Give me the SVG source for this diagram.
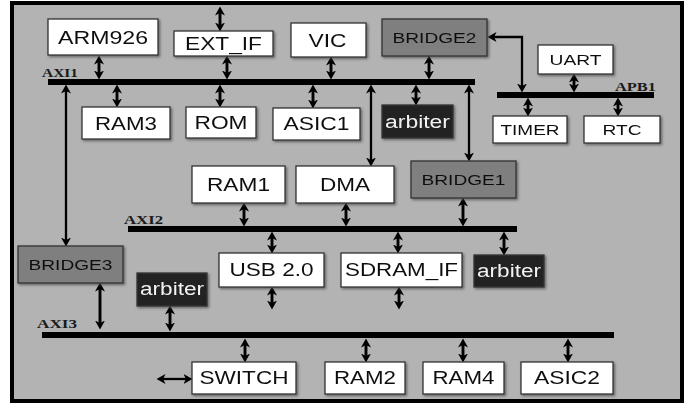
<svg xmlns="http://www.w3.org/2000/svg" width="690" height="407" viewBox="0 0 690 407">
  <style>
    .box { fill: #ffffff; stroke: #333333; stroke-width: 1.3; }
    .bridge { fill: #7f7f7f; stroke: #333333; stroke-width: 1.3; }
    .arb { fill: #232323; stroke: #333333; stroke-width: 1.3; }
    .lbl { font-family: "Liberation Sans", Arial, sans-serif; font-size: 18px; fill: #111111; text-anchor: middle; }
    .lbl-s { font-family: "Liberation Sans", Arial, sans-serif; font-size: 15px; fill: #111111; text-anchor: middle; }
    .lbl-w { font-family: "Liberation Sans", Arial, sans-serif; font-size: 18px; fill: #f2f2f2; text-anchor: middle; }
    .bus { stroke: #000000; stroke-width: 6; }
    .busname { font-family: "Liberation Serif", "Times New Roman", serif; font-weight: bold; font-size: 11.5px; fill: #1a1a1a; }
    .link { fill: none; stroke: #000000; stroke-width: 2.9; marker-start: url(#head); marker-end: url(#head); }
    .link-long { fill: none; stroke: #000000; stroke-width: 2.3; marker-start: url(#head); marker-end: url(#head); }
  </style>
  <defs>
    <marker id="head" markerUnits="userSpaceOnUse" markerWidth="10" markerHeight="11" refX="5.5" refY="5.5" orient="auto-start-reverse">
      <path d="M0,0.5 L9,5.5 L0,10.5 L2.4,5.5 Z" fill="#000000"/>
    </marker>
    <filter id="shadow" x="-10%" y="-10%" width="125%" height="130%">
      <feDropShadow dx="1.5" dy="1.5" stdDeviation="0.8" flood-color="#444444" flood-opacity="0.7"/>
    </filter>
  </defs>

  <!-- frame -->
  <rect x="12" y="3" width="670" height="398" fill="#b3b3b3" stroke="#000000" stroke-width="4"/>

  <!-- buses -->
  <g id="buses">
    <line class="bus" x1="48" y1="82" x2="475" y2="82"/>
    <line class="bus" x1="497" y1="95" x2="654" y2="95"/>
    <line class="bus" x1="128" y1="229" x2="517" y2="229"/>
    <line class="bus" x1="42" y1="335" x2="614" y2="335" stroke-width="7"/>
    <text class="busname" x="42" y="77" textLength="36" lengthAdjust="spacingAndGlyphs">AXI1</text>
    <text class="busname" x="615" y="91" textLength="41" lengthAdjust="spacingAndGlyphs">APB1</text>
    <text class="busname" x="124" y="224" textLength="39" lengthAdjust="spacingAndGlyphs">AXI2</text>
    <text class="busname" x="37" y="328" textLength="40" lengthAdjust="spacingAndGlyphs">AXI3</text>
  </g>

  <!-- connectors (line ends sit 3.5px short of each arrow tip) -->
  <g id="connectors">
    <!-- AXI1 upper side -->
    <line class="link" x1="99" y1="59" x2="99" y2="76"/>
    <line class="link" x1="220" y1="10" x2="220" y2="28"/>
    <line class="link" x1="227" y1="59" x2="227" y2="76"/>
    <line class="link" x1="331" y1="60" x2="331" y2="76"/>
    <line class="link" x1="429" y1="59" x2="429" y2="76"/>
    <!-- AXI1 lower side -->
    <line class="link" x1="117" y1="88" x2="117" y2="104"/>
    <line class="link" x1="220" y1="88" x2="220" y2="104"/>
    <line class="link" x1="313" y1="88" x2="313" y2="105"/>
    <line class="link" x1="416" y1="88" x2="416" y2="102"/>
    <line class="link-long" x1="66" y1="88" x2="66" y2="243"/>
    <line class="link-long" x1="371" y1="88" x2="371" y2="163"/>
    <line class="link-long" x1="469" y1="88" x2="469" y2="158"/>
    <!-- BRIDGE2 to APB1 -->
    <path class="link-long" d="M491,37 H522 V89"/>
    <!-- APB1 -->
    <line class="link" x1="574" y1="77" x2="574" y2="89"/>
    <line class="link" x1="528" y1="101" x2="528" y2="113"/>
    <line class="link" x1="618" y1="101" x2="618" y2="113"/>
    <!-- AXI2 -->
    <line class="link" x1="244" y1="206" x2="244" y2="223"/>
    <line class="link" x1="346" y1="206" x2="346" y2="223"/>
    <line class="link" x1="463" y1="201" x2="463" y2="223"/>
    <line class="link" x1="272" y1="235" x2="272" y2="250"/>
    <line class="link" x1="398" y1="235" x2="398" y2="250"/>
    <line class="link" x1="504" y1="235" x2="504" y2="252"/>
    <line class="link" x1="272" y1="290" x2="272" y2="306"/>
    <line class="link" x1="399" y1="290" x2="399" y2="306"/>
    <!-- AXI3 -->
    <line class="link" x1="100" y1="286" x2="100" y2="326"/>
    <line class="link" x1="170" y1="309" x2="170" y2="328"/>
    <line class="link" x1="245" y1="342" x2="245" y2="359"/>
    <line class="link" x1="366" y1="342" x2="366" y2="359"/>
    <line class="link" x1="463" y1="342" x2="463" y2="359"/>
    <line class="link" x1="568" y1="342" x2="568" y2="359"/>
    <line class="link-long" x1="160" y1="379" x2="189" y2="379"/>
  </g>

  <!-- nodes -->
  <g id="arm926" filter="url(#shadow)">
    <rect class="box" x="48" y="19" width="110" height="36"/>
    <text class="lbl" x="103" y="44" textLength="90" lengthAdjust="spacingAndGlyphs">ARM926</text>
  </g>
  <g id="ext_if" filter="url(#shadow)">
    <rect class="box" x="174" y="31" width="99" height="25"/>
    <text class="lbl" x="223.5" y="50" textLength="77" lengthAdjust="spacingAndGlyphs">EXT_IF</text>
  </g>
  <g id="vic" filter="url(#shadow)">
    <rect class="box" x="291" y="23" width="75" height="34"/>
    <text class="lbl" x="327.5" y="47" textLength="38" lengthAdjust="spacingAndGlyphs">VIC</text>
  </g>
  <g id="bridge2" filter="url(#shadow)">
    <rect class="bridge" x="382" y="19" width="105" height="37"/>
    <text class="lbl-s" x="434.5" y="43" textLength="84" lengthAdjust="spacingAndGlyphs">BRIDGE2</text>
  </g>
  <g id="uart" filter="url(#shadow)">
    <rect class="box" x="538" y="45" width="75" height="29"/>
    <text class="lbl-s" x="575.5" y="65" textLength="52" lengthAdjust="spacingAndGlyphs">UART</text>
  </g>
  <g id="ram3" filter="url(#shadow)">
    <rect class="box" x="82" y="107" width="88" height="32"/>
    <text class="lbl" x="126" y="129.5" textLength="62" lengthAdjust="spacingAndGlyphs">RAM3</text>
  </g>
  <g id="rom" filter="url(#shadow)">
    <rect class="box" x="186" y="107" width="70" height="31"/>
    <text class="lbl" x="221" y="129" textLength="53" lengthAdjust="spacingAndGlyphs">ROM</text>
  </g>
  <g id="asic1" filter="url(#shadow)">
    <rect class="box" x="273" y="108" width="87" height="32"/>
    <text class="lbl" x="316.5" y="130" textLength="66" lengthAdjust="spacingAndGlyphs">ASIC1</text>
  </g>
  <g id="arbiter1" filter="url(#shadow)">
    <rect class="arb" x="382" y="105" width="71" height="33"/>
    <text class="lbl-w" x="417.5" y="128" textLength="65" lengthAdjust="spacingAndGlyphs">arbiter</text>
  </g>
  <g id="timer" filter="url(#shadow)">
    <rect class="box" x="493" y="116" width="74" height="27"/>
    <text class="lbl-s" x="530" y="135" textLength="59" lengthAdjust="spacingAndGlyphs">TIMER</text>
  </g>
  <g id="rtc" filter="url(#shadow)">
    <rect class="box" x="584" y="116" width="76" height="27"/>
    <text class="lbl-s" x="622" y="135" textLength="39" lengthAdjust="spacingAndGlyphs">RTC</text>
  </g>
  <g id="ram1" filter="url(#shadow)">
    <rect class="box" x="192" y="166" width="93" height="37"/>
    <text class="lbl" x="238.5" y="191" textLength="63" lengthAdjust="spacingAndGlyphs">RAM1</text>
  </g>
  <g id="dma" filter="url(#shadow)">
    <rect class="box" x="296" y="166" width="98" height="37"/>
    <text class="lbl" x="345" y="191" textLength="50" lengthAdjust="spacingAndGlyphs">DMA</text>
  </g>
  <g id="bridge1" filter="url(#shadow)">
    <rect class="bridge" x="411" y="161" width="105" height="37"/>
    <text class="lbl-s" x="463.5" y="185" textLength="84" lengthAdjust="spacingAndGlyphs">BRIDGE1</text>
  </g>
  <g id="bridge3" filter="url(#shadow)">
    <rect class="bridge" x="18" y="246" width="105" height="37"/>
    <text class="lbl-s" x="70.5" y="270" textLength="84" lengthAdjust="spacingAndGlyphs">BRIDGE3</text>
  </g>
  <g id="usb20" filter="url(#shadow)">
    <rect class="box" x="219" y="253" width="105" height="34"/>
    <text class="lbl" x="271.5" y="276" textLength="84" lengthAdjust="spacingAndGlyphs">USB 2.0</text>
  </g>
  <g id="sdram_if" filter="url(#shadow)">
    <rect class="box" x="341" y="253" width="121" height="34"/>
    <text class="lbl" x="401.5" y="276" textLength="113" lengthAdjust="spacingAndGlyphs">SDRAM_IF</text>
  </g>
  <g id="arbiter2" filter="url(#shadow)">
    <rect class="arb" x="474" y="255" width="70" height="32"/>
    <text class="lbl-w" x="509" y="277" textLength="64" lengthAdjust="spacingAndGlyphs">arbiter</text>
  </g>
  <g id="arbiter3" filter="url(#shadow)">
    <rect class="arb" x="137" y="273" width="70" height="33"/>
    <text class="lbl-w" x="172" y="295" textLength="64" lengthAdjust="spacingAndGlyphs">arbiter</text>
  </g>
  <g id="switch" filter="url(#shadow)">
    <rect class="box" x="192" y="362" width="104" height="32"/>
    <text class="lbl" x="244" y="384" textLength="89" lengthAdjust="spacingAndGlyphs">SWITCH</text>
  </g>
  <g id="ram2" filter="url(#shadow)">
    <rect class="box" x="325" y="362" width="80" height="32"/>
    <text class="lbl" x="365" y="384" textLength="62" lengthAdjust="spacingAndGlyphs">RAM2</text>
  </g>
  <g id="ram4" filter="url(#shadow)">
    <rect class="box" x="423" y="362" width="81" height="32"/>
    <text class="lbl" x="463.5" y="384" textLength="62" lengthAdjust="spacingAndGlyphs">RAM4</text>
  </g>
  <g id="asic2" filter="url(#shadow)">
    <rect class="box" x="521" y="362" width="92" height="32"/>
    <text class="lbl" x="567" y="384" textLength="66" lengthAdjust="spacingAndGlyphs">ASIC2</text>
  </g>
</svg>
